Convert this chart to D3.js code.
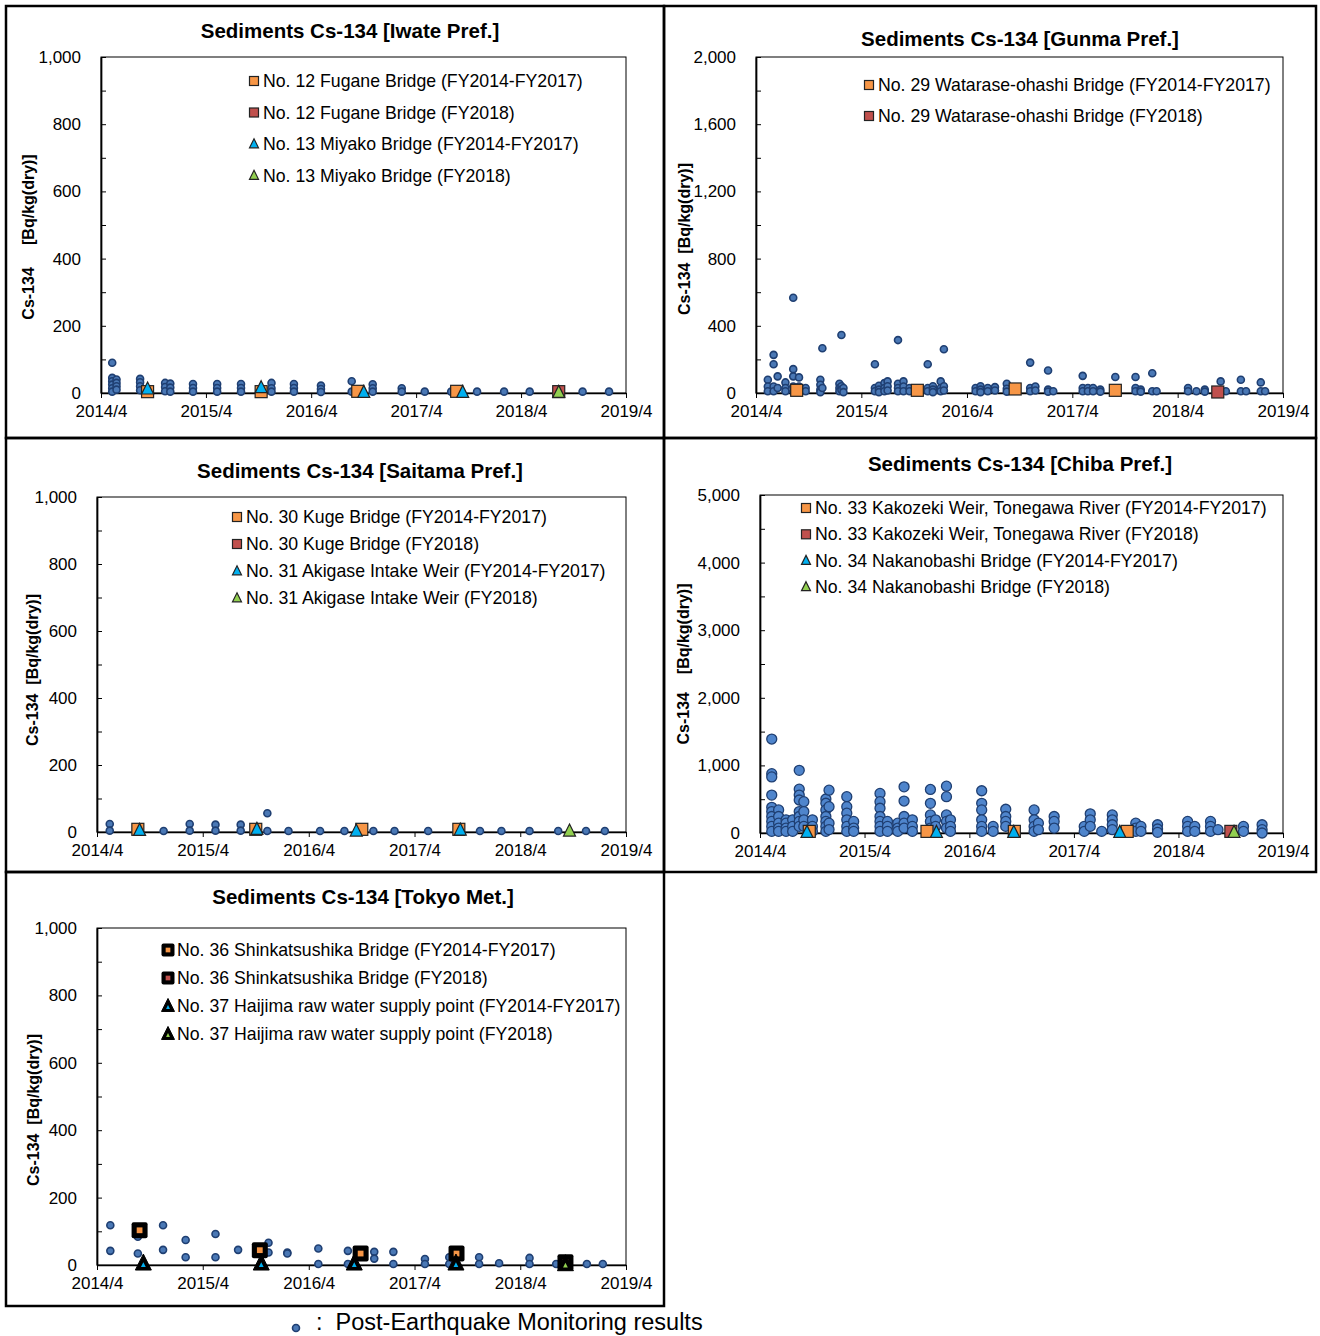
<!DOCTYPE html>
<html>
<head>
<meta charset="utf-8">
<script src="https://cdn.jsdelivr.net/npm/d3@7"></script>
<style>
body { margin: 0; background: #fff; }
svg { display: block; }
text { font-family: Arial, "Liberation Sans", sans-serif; fill: #000; }
</style>
</head>
<body>
<div id="chart"></div>
<script>
// ---- data ----
var xTickLabels = ['2014/4', '2015/4', '2016/4', '2017/4', '2018/4', '2019/4'];

// post-earthquake monitoring results : [date, [values at that date]]
var iwateDots = [
  ['2014-05-10', [90, 45, 35, 25, 14, 4]], ['2014-05-25', [40, 30, 20, 10]],
  ['2014-08-15', [42, 32, 20, 8]], ['2014-11-10', [30, 18, 5]], ['2014-11-28', [28, 16, 4]],
  ['2015-02-15', [27, 15, 4]], ['2015-05-10', [27, 15, 4]], ['2015-08-01', [27, 15, 4]],
  ['2015-11-15', [30, 14, 4]], ['2016-02-01', [27, 15, 4]], ['2016-05-05', [22, 12, 3]],
  ['2016-08-20', [35, 4]], ['2016-11-01', [26, 14, 4]], ['2017-02-10', [14, 4]],
  ['2017-05-01', [4]], ['2017-08-01', [4]], ['2017-10-30', [4]], ['2018-02-01', [4]],
  ['2018-05-01', [4]], ['2018-11-01', [4]], ['2019-02-01', [4]]
];
var iwateSqOld = [['2014-09-10', 4], ['2015-10-10', 4], ['2016-09-10', 5], ['2017-08-20', 5]];
var iwateSqNew = [['2018-08-10', 4]];
var iwateTriOld = [['2014-09-10', 12], ['2015-10-10', 16], ['2016-10-01', 2], ['2017-09-10', 2]];
var iwateTriNew = [['2018-08-10', 2]];

var gunmaDots = [
  ['2014-05-12', [79, 39, 10]], ['2014-06-01', [227, 171, 39, 10]], ['2014-06-15', [99, 30]],
  ['2014-07-12', [63, 30, 10]], ['2014-08-08', [567, 142, 99, 39, 10]], ['2014-08-28', [93, 39, 15]],
  ['2014-09-20', [30, 10]], ['2014-11-10', [79, 49, 20, 5]], ['2014-11-17', [266, 30]],
  ['2015-01-15', [55, 30, 10]], ['2015-01-22', [345, 40, 20]], ['2015-01-29', [30, 5]],
  ['2015-05-18', [171, 30, 10]], ['2015-06-01', [43, 20, 5]], ['2015-06-20', [59, 30, 10]],
  ['2015-07-01', [69, 40, 15]], ['2015-08-06', [315, 55, 30, 10]], ['2015-08-25', [69, 39, 10]],
  ['2015-09-15', [30, 10]], ['2015-11-17', [171, 30, 10]], ['2015-12-05', [40, 20, 5]],
  ['2016-01-01', [69, 30, 10]], ['2016-01-12', [260, 40, 15]], ['2016-05-01', [30, 10]],
  ['2016-05-18', [40, 20, 5]], ['2016-06-12', [30, 10]], ['2016-07-07', [35, 15]],
  ['2016-08-17', [55, 25, 8]], ['2016-11-06', [181, 30, 10]], ['2016-11-24', [39, 15]],
  ['2017-01-07', [134, 20, 8]], ['2017-01-25', [10]], ['2017-05-07', [102, 30, 10]],
  ['2017-05-25', [30, 10]], ['2017-06-12', [30, 10]], ['2017-07-07', [20, 8]],
  ['2017-08-28', [95, 10]], ['2017-11-06', [95, 30, 10]], ['2017-11-24', [20, 8]],
  ['2018-01-03', [118, 10]], ['2018-01-18', [10]], ['2018-05-07', [30, 10]],
  ['2018-06-05', [10]], ['2018-07-04', [20, 8]], ['2018-08-28', [69, 10]], ['2018-09-15', [10]],
  ['2018-11-06', [79, 10]], ['2018-11-24', [10]], ['2019-01-14', [63, 10]], ['2019-01-29', [10]]
];
var gunmaSqOld = [['2014-08-20', 16], ['2015-10-12', 16], ['2016-09-15', 24], ['2017-08-28', 16]];
var gunmaSqNew = [['2018-08-18', 6]];

var saitamaDots = [
  ['2014-05-15', [24, 4]], ['2014-11-17', [3]], ['2015-02-15', [24, 4]], ['2015-05-15', [22, 4]],
  ['2015-08-10', [22, 4]], ['2015-11-10', [56, 3]], ['2016-01-22', [3]], ['2016-05-10', [3]],
  ['2016-08-02', [3]], ['2016-11-10', [3]], ['2017-01-22', [3]], ['2017-05-18', [3]],
  ['2017-11-13', [3]], ['2018-01-26', [3]], ['2018-05-03', [3]], ['2018-08-10', [3]],
  ['2018-11-14', [3]], ['2019-01-18', [3]]
];
var saitamaSqOld = [['2014-08-20', 8], ['2015-10-01', 8], ['2016-10-01', 8], ['2017-09-01', 8]];
var saitamaSqNew = [];
var saitamaTriOld = [['2014-08-26', 5], ['2015-10-05', 8], ['2016-09-12', 3], ['2017-09-06', 6]];
var saitamaTriNew = [['2018-09-18', 3]];

var chibaDots = [
  ['2014-05-12', [1390, 878, 830, 561, 380, 317, 244, 171, 98, 24]],
  ['2014-06-05', [342, 244, 146, 73, 24]], ['2014-07-01', [195, 146, 73, 24]],
  ['2014-07-24', [195, 98, 24]], ['2014-08-16', [927, 649, 561, 488, 317, 244, 171, 98]],
  ['2014-09-01', [464, 317, 195, 98]], ['2014-10-01', [195, 98, 24]],
  ['2014-11-17', [503, 440, 342, 244, 171, 98, 24]], ['2014-11-28', [634, 390, 146, 50]],
  ['2015-01-29', [537, 390, 293, 195, 98, 24]], ['2015-02-22', [171, 73, 24]],
  ['2015-05-25', [586, 464, 366, 244, 171, 98, 24]], ['2015-06-20', [171, 98, 24]],
  ['2015-07-26', [146, 73, 24]], ['2015-08-17', [683, 473, 244, 146, 73]],
  ['2015-09-15', [195, 98, 24]], ['2015-11-17', [644, 439, 268, 171, 73]],
  ['2015-12-05', [195, 98]], ['2016-01-12', [693, 537, 268, 171, 73]],
  ['2016-01-26', [195, 98, 24]], ['2016-05-14', [625, 439, 342, 195, 98, 24]],
  ['2016-06-23', [98, 24]], ['2016-08-06', [351, 244, 171, 98]],
  ['2016-11-13', [342, 195, 98, 24]], ['2016-11-28', [146, 49]], ['2017-01-22', [244, 171, 73]],
  ['2017-05-07', [98, 24]], ['2017-05-28', [283, 195, 98]], ['2017-07-07', [24]],
  ['2017-08-13', [268, 195, 122, 49]], ['2017-11-03', [146, 73, 24]], ['2017-11-21', [98, 24]],
  ['2018-01-18', [122, 59, 10]], ['2018-05-03', [171, 98, 24]], ['2018-05-28', [98, 24]],
  ['2018-07-22', [171, 98, 24]], ['2018-08-17', [49]], ['2018-11-14', [98, 24]],
  ['2019-01-18', [122, 49, 0]]
];
var chibaSqOld = [['2014-09-20', 24], ['2015-11-05', 24], ['2016-09-05', 24], ['2017-10-04', 24]];
var chibaSqNew = [['2018-10-01', 24]];
var chibaTriOld = [['2014-09-12', 10], ['2015-12-08', 10], ['2016-09-03', 10], ['2017-09-08', 10]];
var chibaTriNew = [['2018-10-12', 10]];

var tokyoDots = [
  ['2014-05-17', [118, 42]], ['2014-08-20', [84, 34]], ['2014-11-15', [118, 45]],
  ['2015-02-01', [74, 23]], ['2015-05-15', [92, 23]], ['2015-08-01', [45]],
  ['2015-11-14', [66, 37]], ['2016-01-18', [37, 34]], ['2016-05-04', [49, 3]],
  ['2016-08-14', [42, 3]], ['2016-11-13', [39, 19]], ['2017-01-18', [39, 3]],
  ['2017-05-07', [18, 3]], ['2017-07-30', [23, 3]], ['2017-11-10', [23, 3]],
  ['2018-01-18', [5]], ['2018-05-03', [21, 3]], ['2018-08-03', [3]],
  ['2018-11-17', [3]], ['2019-01-11', [3]]
];
var tokyoSqOld = [['2014-08-26', 103], ['2015-10-15', 44], ['2016-09-27', 34], ['2017-08-24', 34]];
var tokyoSqNew = [['2018-09-04', 8]];
var tokyoTriOld = [['2014-09-08', 5], ['2015-10-20', 5], ['2016-09-05', 5], ['2017-08-22', 5]];
var tokyoTriNew = [['2018-09-04', 3]];

var iwateLegend = ['No. 12 Fugane Bridge (FY2014-FY2017)', 'No. 12 Fugane Bridge (FY2018)',
                   'No. 13 Miyako Bridge (FY2014-FY2017)', 'No. 13 Miyako Bridge (FY2018)'];
var gunmaLegend = ['No. 29 Watarase-ohashi Bridge (FY2014-FY2017)', 'No. 29 Watarase-ohashi Bridge (FY2018)'];
var saitamaLegend = ['No. 30 Kuge Bridge (FY2014-FY2017)', 'No. 30 Kuge Bridge (FY2018)',
                     'No. 31 Akigase Intake Weir (FY2014-FY2017)', 'No. 31 Akigase Intake Weir (FY2018)'];
var chibaLegend = ['No. 33 Kakozeki Weir, Tonegawa River (FY2014-FY2017)', 'No. 33 Kakozeki Weir, Tonegawa River (FY2018)',
                   'No. 34 Nakanobashi Bridge (FY2014-FY2017)', 'No. 34 Nakanobashi Bridge (FY2018)'];
var tokyoLegend = ['No. 36 Shinkatsushika Bridge (FY2014-FY2017)', 'No. 36 Shinkatsushika Bridge (FY2018)',
                   'No. 37 Haijima raw water supply point (FY2014-FY2017)', 'No. 37 Haijima raw water supply point (FY2018)'];

// ---- colours ----
var colors = {sqOld: '#F79646', sqNew: '#C0504D', triOld: '#00B0F0', triNew: '#92D050'};

// ---- layout of the five panels ----
var panels = [
  {title: 'Sediments Cs-134 [Iwate Pref.]', box: [6, 6, 664, 438], plot: [101, 57, 626, 393], tx: 350, ty: 30,
   ymax: 1000, major: 200, minor: 100, yl: [28, 237], gap: '     ', leg: [254, 81, 31.5], dots: iwateDots, r: 3.5,
   series: {sqOld: iwateSqOld, sqNew: iwateSqNew, triOld: iwateTriOld, triNew: iwateTriNew},
   legend: iwateLegend, types: ['sqOld', 'sqNew', 'triOld', 'triNew']},
  {title: 'Sediments Cs-134 [Gunma Pref.]', box: [664, 6, 1316, 438], plot: [756, 57, 1283, 393], tx: 1020, ty: 38,
   ymax: 2000, major: 400, minor: 200, yl: [684, 239], gap: '  ', leg: [869, 85, 31], dots: gunmaDots, r: 3.5,
   series: {sqOld: gunmaSqOld, sqNew: gunmaSqNew},
   legend: gunmaLegend, types: ['sqOld', 'sqNew']},
  {title: 'Sediments Cs-134 [Saitama Pref.]', box: [6, 438, 664, 872], plot: [97, 497, 626, 832], tx: 360, ty: 470,
   ymax: 1000, major: 200, minor: 100, yl: [32, 670], gap: '  ', leg: [237, 517, 27], dots: saitamaDots, r: 3.5,
   series: {sqOld: saitamaSqOld, sqNew: saitamaSqNew, triOld: saitamaTriOld, triNew: saitamaTriNew},
   legend: saitamaLegend, types: ['sqOld', 'sqNew', 'triOld', 'triNew']},
  {title: 'Sediments Cs-134 [Chiba Pref.]', box: [664, 438, 1316, 872], plot: [760, 495, 1283, 833], tx: 1020, ty: 463,
   ymax: 5000, major: 1000, minor: 500, yl: [683, 664], gap: '    ', leg: [806, 508, 26.3], dots: chibaDots, r: 5,
   series: {sqOld: chibaSqOld, sqNew: chibaSqNew, triOld: chibaTriOld, triNew: chibaTriNew},
   legend: chibaLegend, types: ['sqOld', 'sqNew', 'triOld', 'triNew']},
  {title: 'Sediments Cs-134 [Tokyo Met.]', box: [6, 872, 664, 1306], plot: [97, 928, 626, 1265], tx: 363, ty: 896,
   ymax: 1000, major: 200, minor: 100, yl: [33, 1110], gap: '  ', leg: [168, 950, 28], dots: tokyoDots, r: 3.5, black: true,
   series: {sqOld: tokyoSqOld, sqNew: tokyoSqNew, triOld: tokyoTriOld, triNew: tokyoTriNew},
   legend: tokyoLegend, types: ['sqOld', 'sqNew', 'triOld', 'triNew']}
];

var parseDate = d3.timeParse('%Y-%m-%d');
var tickDates = xTickLabels.map(function(s) {
  var p = s.split('/');
  return new Date(+p[0], +p[1] - 1, 1);
});

var svg = d3.select('#chart')
            .append('svg')
            .attr('width', 1320)
            .attr('height', 1336);

function triPath(s) {
  return 'M0,' + (-s * 0.58) + 'L' + (s / 2) + ',' + (s * 0.42) + 'L' + (-s / 2) + ',' + (s * 0.42) + 'Z';
}

// draws one marker (square / triangle) centred at 0,0 inside g
function drawMarker(g, type, size, black) {
  var isSq = type.indexOf('sq') === 0;
  if (black) {
    if (isSq) {
      g.append('rect').attr('x', -size / 2).attr('y', -size / 2).attr('width', size).attr('height', size)
       .attr('rx', 2).attr('fill', '#000');
      g.append('rect').attr('x', -size * 0.18).attr('y', -size * 0.18).attr('width', size * 0.36).attr('height', size * 0.36)
       .attr('fill', colors[type]);
    } else {
      g.append('path').attr('d', triPath(size)).attr('fill', '#000').attr('stroke', '#000').attr('stroke-linejoin', 'round');
      g.append('path').attr('d', triPath(size * 0.3)).attr('transform', 'translate(0,' + (size * 0.1) + ')').attr('fill', colors[type]);
    }
  } else {
    if (isSq) {
      g.append('rect').attr('x', -size / 2).attr('y', -size / 2).attr('width', size).attr('height', size)
       .attr('fill', colors[type]).attr('stroke', '#222').attr('stroke-width', 1.2);
    } else {
      g.append('path').attr('d', triPath(size)).attr('fill', colors[type]).attr('stroke', '#222').attr('stroke-width', 1.2);
    }
  }
}

panels.forEach(function(p) {
  var b = p.box;
  svg.append('rect')
     .attr('x', b[0]).attr('y', b[1])
     .attr('width', b[2] - b[0]).attr('height', b[3] - b[1])
     .attr('fill', 'none').attr('stroke', '#000').attr('stroke-width', 2.5);

  var x = d3.scaleTime()
            .domain([tickDates[0], tickDates[tickDates.length - 1]])
            .range([p.plot[0], p.plot[2]]);
  var y = d3.scaleLinear()
            .domain([0, p.ymax])
            .range([p.plot[3], p.plot[1]]);

  var g = svg.append('g');

  // title
  g.append('text')
   .attr('x', p.tx).attr('y', p.ty)
   .attr('text-anchor', 'middle').attr('dominant-baseline', 'central')
   .style('font-size', '20.5px').style('font-weight', 'bold')
   .text(p.title);

  // y title
  g.append('text')
   .attr('transform', 'translate(' + p.yl[0] + ',' + p.yl[1] + ') rotate(-90)')
   .attr('text-anchor', 'middle').attr('dominant-baseline', 'central')
   .style('font-size', '16px').style('font-weight', 'bold')
   .style('white-space', 'pre')
   .text('Cs-134' + p.gap + '[Bq/kg(dry)]');

  // plot frame
  g.append('rect')
   .attr('x', p.plot[0]).attr('y', p.plot[1])
   .attr('width', p.plot[2] - p.plot[0]).attr('height', p.plot[3] - p.plot[1])
   .attr('fill', 'none').attr('stroke', '#000').attr('stroke-width', 1);

  // y axis (ticks point inwards)
  g.append('g')
   .attr('transform', 'translate(' + p.plot[0] + ',0)')
   .call(d3.axisLeft(y)
           .tickValues(d3.range(0, p.ymax + 1, p.major))
           .tickFormat(d3.format(','))
           .tickSize(-5).tickSizeOuter(0).tickPadding(20));
  g.append('g')
   .attr('transform', 'translate(' + p.plot[0] + ',0)')
   .call(d3.axisLeft(y)
           .tickValues(d3.range(p.minor, p.ymax, p.major))
           .tickFormat('')
           .tickSize(-5).tickSizeOuter(0));

  // x axis
  g.append('g')
   .attr('transform', 'translate(0,' + p.plot[3] + ')')
   .call(d3.axisBottom(x)
           .tickValues(tickDates)
           .tickFormat(function(d, i) { return xTickLabels[i]; })
           .tickSize(5).tickSizeOuter(0).tickPadding(7));

  g.selectAll('.domain').attr('stroke', '#000').attr('stroke-width', 1.4);
  g.selectAll('.tick line').attr('stroke', '#000');
  g.selectAll('.tick text')
   .style('font-size', '17px')
   .style('font-family', 'Arial, "Liberation Sans", sans-serif')
   .attr('fill', '#000');

  // monitoring dots
  var pts = [];
  p.dots.forEach(function(d) {
    d[1].forEach(function(v) { pts.push({date: parseDate(d[0]), value: v}); });
  });
  g.selectAll('.dot')
   .data(pts)
   .enter()
   .append('circle')
   .attr('class', 'dot')
   .attr('cx', function(d) { return x(d.date); })
   .attr('cy', function(d) { return y(d.value); })
   .attr('r', p.r)
   .attr('fill', p.r > 4 ? '#4f85cc' : '#4a78b5')
   .attr('stroke', '#1f3f72')
   .attr('stroke-width', p.r > 4 ? 1.3 : 1.6);

  // fixed-point markers: squares then triangles
  var mSize = p.black ? 16 : 12;
  ['sqOld', 'sqNew', 'triOld', 'triNew'].forEach(function(type) {
    var ser = p.series[type];
    if (!ser) return;
    ser.forEach(function(d) {
      var mg = g.append('g')
                .attr('transform', 'translate(' + x(parseDate(d[0])) + ',' + y(d[1]) + ')');
      drawMarker(mg, type, mSize, p.black);
    });
  });

  // legend
  p.types.forEach(function(type, i) {
    var ly = p.leg[1] + i * p.leg[2];
    var lg = g.append('g').attr('transform', 'translate(' + p.leg[0] + ',' + ly + ')');
    drawMarker(lg, type, p.black ? 13 : 9, p.black);
    g.append('text')
     .attr('x', p.leg[0] + 9).attr('y', ly)
     .attr('dominant-baseline', 'central')
     .style('font-size', '17.7px')
     .text(p.legend[i]);
  });
});

// footnote
svg.append('circle')
   .attr('cx', 296).attr('cy', 1328).attr('r', 3.5)
   .attr('fill', '#4a78b5').attr('stroke', '#1f3f72').attr('stroke-width', 1.6);
svg.append('text')
   .attr('x', 316).attr('y', 1330)
   .style('font-size', '23.5px')
   .style('white-space', 'pre')
   .text(':  Post-Earthquake Monitoring results');
</script>
</body>
</html>
